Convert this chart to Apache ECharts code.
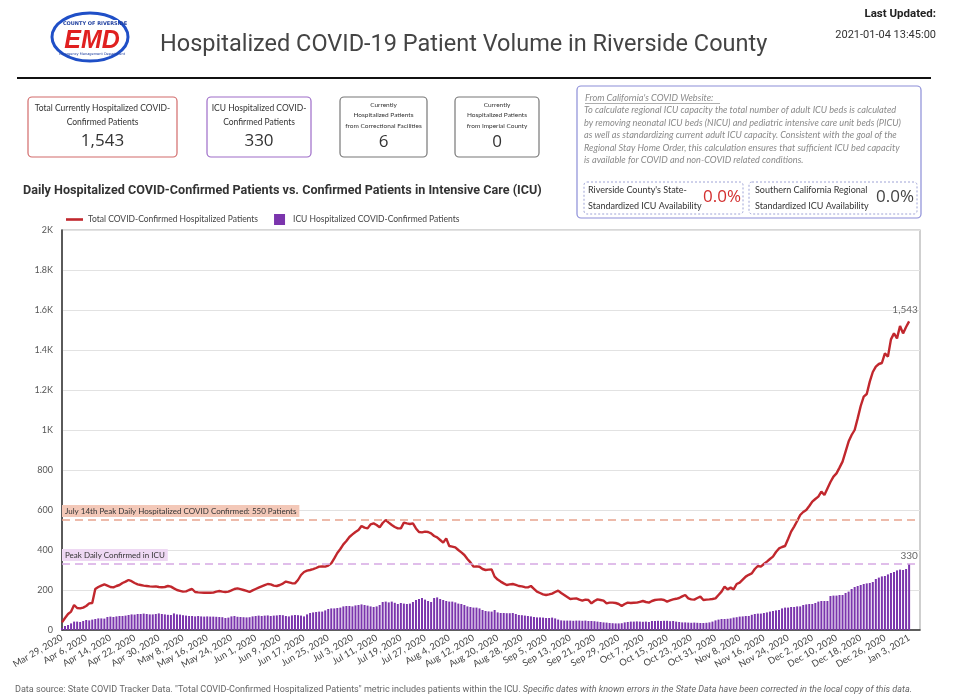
<!DOCTYPE html>
<html>
<head>
<meta charset="utf-8">
<script src="https://cdn.jsdelivr.net/npm/echarts@6/dist/echarts.min.js"></script>
<style>
html,body{margin:0;padding:0;background:#fff;}
#chart{width:955px;height:696px;}
</style>
</head>
<body>
<div id="chart"></div>
<script>
// ---- Data (Mar 29, 2020 .. Jan 3, 2021, one value per day) ----
const hospitalized = [
 38,60,80,92,125,110,108,112,120,133,
 135,205,215,222,228,222,215,213,220,225,
 235,242,250,244,235,228,225,222,220,218,
 217,218,215,214,215,220,217,208,200,196,
 192,193,200,205,190,188,187,186,187,186,
 187,192,195,192,190,192,198,205,208,204,
 200,196,190,198,205,212,218,224,230,228,
 222,220,225,232,242,238,234,233,250,275,
 290,297,300,304,310,317,318,317,322,333,
 358,385,405,428,445,465,478,490,500,520,
 512,508,528,533,525,513,535,550,537,525,
 515,508,508,537,533,530,533,508,490,488,
 492,490,483,470,463,450,437,458,420,417,
 413,400,388,375,355,338,317,318,316,305,
 300,302,303,267,252,242,233,225,228,230,
 226,220,218,214,213,220,206,192,185,178,
 175,178,182,190,197,185,175,165,155,157,
 158,152,147,152,150,133,145,153,150,147,
 133,137,137,135,130,120,130,137,135,136,
 137,141,145,140,137,145,150,152,153,150,
 142,148,153,156,160,168,175,158,153,152,
 160,167,150,152,153,155,158,175,192,217,
 203,212,203,230,237,252,267,276,283,305,
 320,317,330,342,355,367,390,408,415,420,
 455,492,517,545,575,590,600,620,642,655,
 667,692,675,708,740,767,783,812,842,892,
 942,975,1000,1058,1120,1167,1180,1242,1290,1317,
 1330,1335,1383,1367,1453,1483,1458,1520,1483,1515,
 1543
];
const icu = [
 10,20,25,33,42,42,40,45,50,48,
 52,55,58,58,57,65,67,65,68,70,
 70,72,75,78,77,80,80,82,80,78,
 78,80,83,80,78,76,75,83,78,77,
 74,72,70,70,68,70,68,67,68,67,
 67,66,65,64,60,62,68,70,66,65,
 64,63,64,68,70,72,70,72,73,70,
 72,73,75,74,70,68,73,75,74,72,
 68,78,85,88,90,92,92,98,105,108,
 108,110,112,118,120,120,118,123,125,128,
 125,122,118,115,118,125,140,142,138,142,
 136,130,135,132,130,132,140,150,155,160,
 152,145,140,160,163,155,150,145,142,142,
 138,132,130,125,118,115,112,112,108,100,
 95,93,92,100,88,85,85,84,84,85,
 80,75,74,72,70,68,65,63,63,62,
 60,60,62,58,52,48,47,47,47,46,
 47,47,46,47,45,45,44,42,40,38,
 37,35,34,33,33,34,38,40,42,42,
 43,42,41,42,40,45,45,46,45,46,
 46,44,45,42,40,38,38,37,36,37,
 36,35,35,36,38,42,48,52,55,55,
 56,58,62,64,67,68,70,70,76,80,
 82,82,85,88,92,95,98,100,108,112,
 112,115,115,118,118,125,128,130,130,135,
 142,145,145,145,170,172,172,175,175,185,
 192,205,215,220,225,230,233,235,240,255,
 262,268,270,278,285,290,298,302,300,305,
 330
];
const tickLabels = ['Mar 29, 2020','Apr 6, 2020','Apr 14, 2020','Apr 22, 2020','Apr 30, 2020','May 8, 2020','May 16, 2020','May 24, 2020','Jun 1, 2020','Jun 9, 2020','Jun 17, 2020','Jun 25, 2020','Jul 3, 2020','Jul 11, 2020','Jul 19, 2020','Jul 27, 2020','Aug 4, 2020','Aug 12, 2020','Aug 20, 2020','Aug 28, 2020','Sep 5, 2020','Sep 13, 2020','Sep 21, 2020','Sep 29, 2020','Oct 7, 2020','Oct 15, 2020','Oct 23, 2020','Oct 31, 2020','Nov 8, 2020','Nov 16, 2020','Nov 24, 2020','Dec 2, 2020','Dec 10, 2020','Dec 18, 2020','Dec 26, 2020','Jan 3, 2021'];
const tickStep = 8;
const peakHosp = 550;
const peakIcu = 330;
const correctional = 6;
const imperial = 0;
const riversideICU = '0.0%';
const socalICU = '0.0%';
const seriesNames = ['Total COVID-Confirmed Hospitalized Patients','ICU Hospitalized COVID-Confirmed Patients'];

// ---- Build ----
const fmt = v => Number(v).toLocaleString('en-US');
const last = hospitalized.length - 1;
const lineData = hospitalized.map((v,i)=>[i,v]);
const barData = icu.map((v,i)=> i===last ? {value:[i,v], label:{show:true, position:'top', formatter: fmt(v), color:'#666', fontSize:10, fontFamily:'Lato', distance:3}} : [i,v]);

const small = 'Lato';
function txt(x,y,text,o){ return Object.assign({type:'text', x:x, y:y, style:Object.assign({text:text, fill:'#333', fontSize:9, fontFamily:small, textAlign:'center', textVerticalAlign:'middle'}, o||{})}); }
function box(x,y,w,h,stroke,extra){ return {type:'rect', shape:{x:x,y:y,width:w,height:h,r:4}, style:Object.assign({fill:'#fff', stroke:stroke, lineWidth:1.2}, extra||{})}; }
const infoStyle = {fontSize:9.2,fontStyle:'italic',fill:'#8a8a8a',textAlign:'left'};

const graphics = [
  // logo
  {type:'ellipse', shape:{cx:90,cy:37,rx:38,ry:24}, style:{fill:'none', stroke:'#1f4fc7', lineWidth:3}},
  {type:'rect', shape:{x:68,y:20,width:50,height:8}, style:{fill:'#fff'}},
  txt(95,24,'COUNTY OF RIVERSIDE',{fontSize:5,fontWeight:'bold',fill:'#1f3f9f',fontFamily:'DejaVu Sans'}),
  txt(92,41,'EMD',{fontSize:25,fontWeight:'bold',fontStyle:'italic',fill:'#e02020',stroke:'#fff',lineWidth:1,fontFamily:'Liberation Sans'}),
  txt(92,54,'Emergency Management Department',{fontSize:3.5,fill:'#1f3f9f',fontFamily:'DejaVu Sans'}),
  // main title
  txt(160,45,'Hospitalized COVID-19 Patient Volume in Riverside County',{fontSize:23.5,fill:'#444',fontFamily:'Roboto',textAlign:'left'}),
  txt(936,14,'Last Updated:',{fontSize:11.5,fontWeight:'bold',fill:'#222',fontFamily:'Roboto',textAlign:'right'}),
  txt(936,35,'2021-01-04 13:45:00',{fontSize:11,fill:'#333',fontFamily:'Roboto',textAlign:'right'}),
  {type:'line', shape:{x1:17,y1:78,x2:931,y2:78}, style:{stroke:'#111', lineWidth:2}},
  // KPI boxes
  box(28,97,149,60,'#d26b6b'),
  txt(102.5,108,'Total Currently Hospitalized COVID-',{fontSize:8.5}),
  txt(102.5,122,'Confirmed Patients',{fontSize:8.5}),
  txt(102.5,141,fmt(hospitalized[last]),{fontSize:17,fill:'#333',fontFamily:'Open Sans'}),
  box(207,97,104,60,'#9d6cc8'),
  txt(259,108,'ICU Hospitalized COVID-',{fontSize:8.5}),
  txt(259,122,'Confirmed Patients',{fontSize:8.5}),
  txt(259,141,fmt(icu[last]),{fontSize:17,fill:'#333',fontFamily:'Open Sans'}),
  box(340,97,87,60,'#777'),
  txt(383.5,105,'Currently',{fontSize:6.5}),
  txt(383.5,115,'Hospitalized Patients',{fontSize:6.5}),
  txt(383.5,126,'from Correctional Facilities',{fontSize:6.5}),
  txt(383.5,142,String(correctional),{fontSize:17,fill:'#333',fontFamily:'Open Sans'}),
  box(455,97,84,60,'#777'),
  txt(497,105,'Currently',{fontSize:6.5}),
  txt(497,115,'Hospitalized Patients',{fontSize:6.5}),
  txt(497,126,'from Imperial County',{fontSize:6.5}),
  txt(497,142,String(imperial),{fontSize:17,fill:'#333',fontFamily:'Open Sans'}),
  // info box
  box(577,86,344,132,'#8c8ed8'),
  txt(585,98,"From California's COVID Website:",infoStyle),
  {type:'line', shape:{x1:585,y1:103.5,x2:720,y2:103.5}, style:{stroke:'#999', lineWidth:0.8}},
  txt(584,110.5,'To calculate regional ICU capacity the total number of adult ICU beds is calculated',infoStyle),
  txt(584,123,'by removing neonatal ICU beds (NICU) and pediatric intensive care unit beds (PICU)',infoStyle),
  txt(584,135.5,'as well as standardizing current adult ICU capacity. Consistent with the goal of the',infoStyle),
  txt(584,148,'Regional Stay Home Order, this calculation ensures that sufficient ICU bed capacity',infoStyle),
  txt(584,160.5,'is available for COVID and non-COVID related conditions.',infoStyle),
  {type:'rect', shape:{x:584,y:182,width:159,height:32,r:3}, style:{fill:'none',stroke:'#9ea3d6',lineWidth:1,lineDash:[2,2]}},
  txt(588,190,"Riverside County's State-",{fontSize:9,fill:'#333',textAlign:'left'}),
  txt(588,206,'Standardized ICU Availability',{fontSize:9,fill:'#333',textAlign:'left'}),
  txt(741,197,riversideICU,{fontSize:17,fill:'#d32f2f',fontFamily:'Open Sans',textAlign:'right'}),
  {type:'rect', shape:{x:749,y:182,width:168,height:32,r:3}, style:{fill:'none',stroke:'#9ea3d6',lineWidth:1,lineDash:[2,2]}},
  txt(755,190,'Southern California Regional',{fontSize:9,fill:'#333',textAlign:'left'}),
  txt(755,206,'Standardized ICU Availability',{fontSize:9,fill:'#333',textAlign:'left'}),
  txt(914,197,socalICU,{fontSize:17,fill:'#444',fontFamily:'Open Sans',textAlign:'right'}),
  // chart title
  txt(23,191,'Daily Hospitalized COVID-Confirmed Patients vs. Confirmed Patients in Intensive Care (ICU)',{fontSize:12.6,fontWeight:'bold',fill:'#333',fontFamily:'Roboto',textAlign:'left'}),
  // footer
  {type:'text', x:15, y:690, style:{text:'{n|Data source: State COVID Tracker Data. "Total COVID-Confirmed Hospitalized Patients" metric includes patients within the ICU. }{i|Specific dates with known errors in the State Data have been corrected in the local copy of this data.}', textVerticalAlign:'middle', rich:{n:{fontSize:9.05,fill:'#666',fontFamily:'Roboto'}, i:{fontSize:9.05,fill:'#666',fontFamily:'Roboto',fontStyle:'italic'}}}}
];

const chart = echarts.init(document.getElementById('chart'));
chart.setOption({
  animation:false,
  backgroundColor:'#fff',
  graphic: graphics,
  legend:{
    left:61, top:209, itemGap:16, itemWidth:17, itemHeight:11,
    textStyle:{fontSize:8.5, color:'#444', fontFamily:small},
    data:[
      {name:seriesNames[0], icon:'path://M0,0h17v2.6h-17z'},
      {name:seriesNames[1], icon:'path://M0,0h11v11h-11z'}
    ]
  },
  grid:{left:62, right:35, top:230, bottom:66, show:true, borderColor:'#b0b0b0', borderWidth:1.2},
  xAxis:{
    type:'value', min:0, max:283.6, interval:tickStep,
    axisLine:{show:true, onZero:false, lineStyle:{color:'#333', width:1.5}},
    axisTick:{show:false}, splitLine:{show:false},
    axisLabel:{rotate:30, fontSize:9.3, color:'#444', fontFamily:small, margin:7, showMaxLabel:false,
      formatter: v => (v % tickStep === 0 && v/tickStep < tickLabels.length) ? tickLabels[v/tickStep] : ''}
  },
  yAxis:{
    type:'value', min:0, max:2000, interval:200,
    axisLine:{show:true, lineStyle:{color:'#333', width:1.5}},
    axisTick:{show:false},
    splitLine:{lineStyle:{color:'#e2e2e2', width:1.2}},
    axisLabel:{fontSize:9, color:'#555', fontFamily:small, margin:9,
      formatter: v => v >= 1000 ? (v/1000) + 'K' : String(v)}
  },
  series:[
    {
      name:seriesNames[1], type:'bar', data:barData, barWidth:2,
      itemStyle:{color:'#7b35ad'}, z:2
    },
    {
      name:seriesNames[0], type:'line', data:lineData, symbol:'none',
      lineStyle:{color:'#c1272d', width:2.4}, itemStyle:{color:'#c1272d'}, z:4,
      markPoint:{
        symbol:'circle', symbolSize:1, itemStyle:{color:'rgba(0,0,0,0)'},
        label:{show:true, position:'top', color:'#666', fontSize:10, fontFamily:small, distance:6, offset:[-4,0]},
        data:[{coord:[last, hospitalized[last]], value:hospitalized[last], label:{formatter: fmt(hospitalized[last])}}]
      },
      markLine:{
        silent:true, symbol:['none','none'],
        data:[
          {yAxis:peakHosp, lineStyle:{color:'#e8a48e', type:[8,5], width:1.5},
           label:{show:true, position:'insideStartTop', formatter:'July 14th Peak Daily Hospitalized COVID Confirmed: ' + peakHosp + ' Patients', backgroundColor:'#f3c8b8', color:'#333', fontSize:8, fontFamily:small, padding:[2,3], distance:[0,3]}},
          {yAxis:peakIcu, lineStyle:{color:'#d6a9e3', type:[8,5], width:1.5},
           label:{show:true, position:'insideStartTop', formatter:'Peak Daily Confirmed in ICU', backgroundColor:'#eed8f3', color:'#333', fontSize:8, fontFamily:small, padding:[2,3], distance:[0,3]}}
        ]
      }
    }
  ]
});
</script>
</body>
</html>
